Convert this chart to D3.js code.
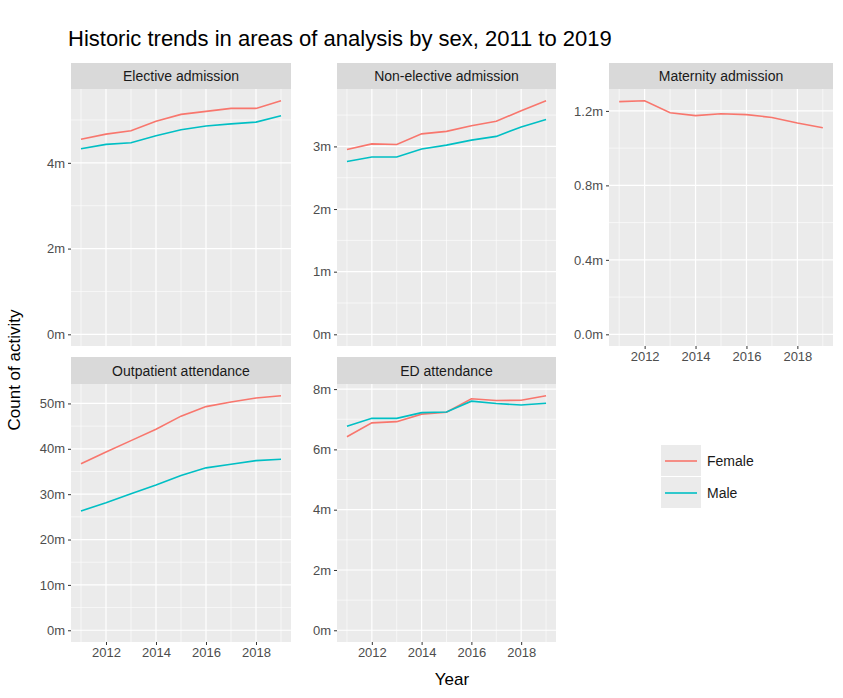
<!DOCTYPE html><html><head><script src="https://cdn.jsdelivr.net/npm/d3@7"></script>
<style>body{margin:0;background:#fff}text{font-family:"Liberation Sans",Arial,sans-serif}</style></head><body>
<svg id="c" width="843" height="698"></svg>
<script>
const years=[2011,2012,2013,2014,2015,2016,2017,2018,2019];
const xTicks=[2012,2014,2016,2018];
const electiveF=[4.55,4.67,4.75,4.97,5.13,5.20,5.27,5.27,5.45];
const electiveM=[4.33,4.43,4.47,4.63,4.77,4.86,4.91,4.95,5.10];
const nonElectiveF=[2.95,3.04,3.03,3.20,3.24,3.33,3.40,3.57,3.73];
const nonElectiveM=[2.76,2.83,2.83,2.96,3.02,3.10,3.16,3.31,3.43];
const maternityF=[1.25,1.255,1.19,1.175,1.185,1.18,1.165,1.135,1.11];
const outpatientF=[36.7,39.3,41.8,44.3,47.2,49.3,50.3,51.2,51.7];
const outpatientM=[26.3,28.1,30.1,32.0,34.1,35.8,36.6,37.4,37.7];
const edF=[6.42,6.88,6.92,7.17,7.23,7.68,7.62,7.63,7.78];
const edM=[6.77,7.03,7.03,7.22,7.24,7.60,7.52,7.47,7.53];
const colF="#F8766D",colM="#00BFC4";
const panels=[
 {name:"Elective admission",col:0,row:0,F:electiveF,M:electiveM,ticks:[0,2,4],fmt:d=>d+"m",xaxis:false},
 {name:"Non-elective admission",col:1,row:0,F:nonElectiveF,M:nonElectiveM,ticks:[0,1,2,3],fmt:d=>d+"m",xaxis:false},
 {name:"Maternity admission",col:2,row:0,F:maternityF,M:null,ticks:[0,0.4,0.8,1.2],fmt:d=>d.toFixed(1)+"m",xaxis:true},
 {name:"Outpatient attendance",col:0,row:1,F:outpatientF,M:outpatientM,ticks:[0,10,20,30,40,50],fmt:d=>d+"m",xaxis:true},
 {name:"ED attendance",col:1,row:1,F:edF,M:edM,ticks:[0,2,4,6,8],fmt:d=>d+"m",xaxis:true}];
const cols=[[71,291],[337,556],[609,833]];
const rows=[[63,89,346],[357,384,642]];
const svg=d3.select("#c");
svg.append("text").attr("x",68).attr("y",46).attr("font-size",22).attr("fill","#000").text("Historic trends in areas of analysis by sex, 2011 to 2019");
panels.forEach(p=>{
 const [x0,x1]=cols[p.col],[st,y0,y1]=rows[p.row];
 const x=d3.scaleLinear().domain([2010.6,2019.4]).range([x0,x1]);
 const all=p.F.concat(p.M||[]).concat([0]);
 const mn=d3.min(all),mx=d3.max(all),e=(mx-mn)*0.05;
 const y=d3.scaleLinear().domain([mn-e,mx+e]).range([y1,y0]);
 const g=svg.append("g");
 g.append("rect").attr("x",x0).attr("y",st).attr("width",x1-x0).attr("height",y0-st).attr("fill","#d9d9d9");
 g.append("text").attr("x",(x0+x1)/2).attr("y",(st+y0)/2+5).attr("text-anchor","middle").attr("font-size",14).attr("fill","#1a1a1a").text(p.name);
 g.append("rect").attr("x",x0).attr("y",y0).attr("width",x1-x0).attr("height",y1-y0).attr("fill","#ebebeb");
 const minor=[];for(let i=0;i<p.ticks.length-1;i++)minor.push((p.ticks[i]+p.ticks[i+1])/2);
 const st2=p.ticks[1]-p.ticks[0];minor.push(p.ticks[p.ticks.length-1]+st2/2);
 minor.filter(v=>v<=y.domain()[1]).forEach(v=>g.append("line").attr("x1",x0).attr("x2",x1).attr("y1",y(v)).attr("y2",y(v)).attr("stroke","#fff").attr("stroke-width",0.6));
 [2011,2013,2015,2017,2019].forEach(v=>g.append("line").attr("x1",x(v)).attr("x2",x(v)).attr("y1",y0).attr("y2",y1).attr("stroke","#fff").attr("stroke-width",0.6));
 p.ticks.forEach(v=>g.append("line").attr("x1",x0).attr("x2",x1).attr("y1",y(v)).attr("y2",y(v)).attr("stroke","#fff").attr("stroke-width",1.2));
 xTicks.forEach(v=>g.append("line").attr("x1",x(v)).attr("x2",x(v)).attr("y1",y0).attr("y2",y1).attr("stroke","#fff").attr("stroke-width",1.2));
 const ya=g.append("g").attr("transform",`translate(${x0},0)`).call(d3.axisLeft(y).tickValues(p.ticks).tickFormat(p.fmt).tickSize(3).tickPadding(3));
 ya.select(".domain").remove();ya.selectAll("line").attr("stroke","#333");ya.selectAll("text").attr("font-size",13).attr("fill","#4d4d4d");
 if(p.xaxis){const xa=g.append("g").attr("transform",`translate(0,${y1})`).call(d3.axisBottom(x).tickValues(xTicks).tickFormat(d3.format("d")).tickSize(3).tickPadding(3));
  xa.select(".domain").remove();xa.selectAll("line").attr("stroke","#333");xa.selectAll("text").attr("font-size",13).attr("fill","#4d4d4d");}
 const line=d3.line().x((d,i)=>x(years[i])).y(d=>y(d));
 g.append("path").attr("d",line(p.F)).attr("fill","none").attr("stroke",colF).attr("stroke-width",1.6);
 if(p.M)g.append("path").attr("d",line(p.M)).attr("fill","none").attr("stroke",colM).attr("stroke-width",1.6);
});
svg.append("text").attr("transform","translate(20,370) rotate(-90)").attr("text-anchor","middle").attr("font-size",17).text("Count of activity");
svg.append("text").attr("x",452).attr("y",685).attr("text-anchor","middle").attr("font-size",17).text("Year");
const lg=svg.append("g");
[["Female",colF],["Male",colM]].forEach((d,i)=>{
 lg.append("rect").attr("x",661).attr("y",445+i*32).attr("width",40).attr("height",31).attr("fill","#ebebeb");
 lg.append("line").attr("x1",665).attr("x2",697).attr("y1",461+i*32).attr("y2",461+i*32).attr("stroke",d[1]).attr("stroke-width",1.6);
 lg.append("text").attr("x",707).attr("y",466+i*32).attr("font-size",14).attr("fill","#1a1a1a").text(d[0]);
});
</script></body></html>
